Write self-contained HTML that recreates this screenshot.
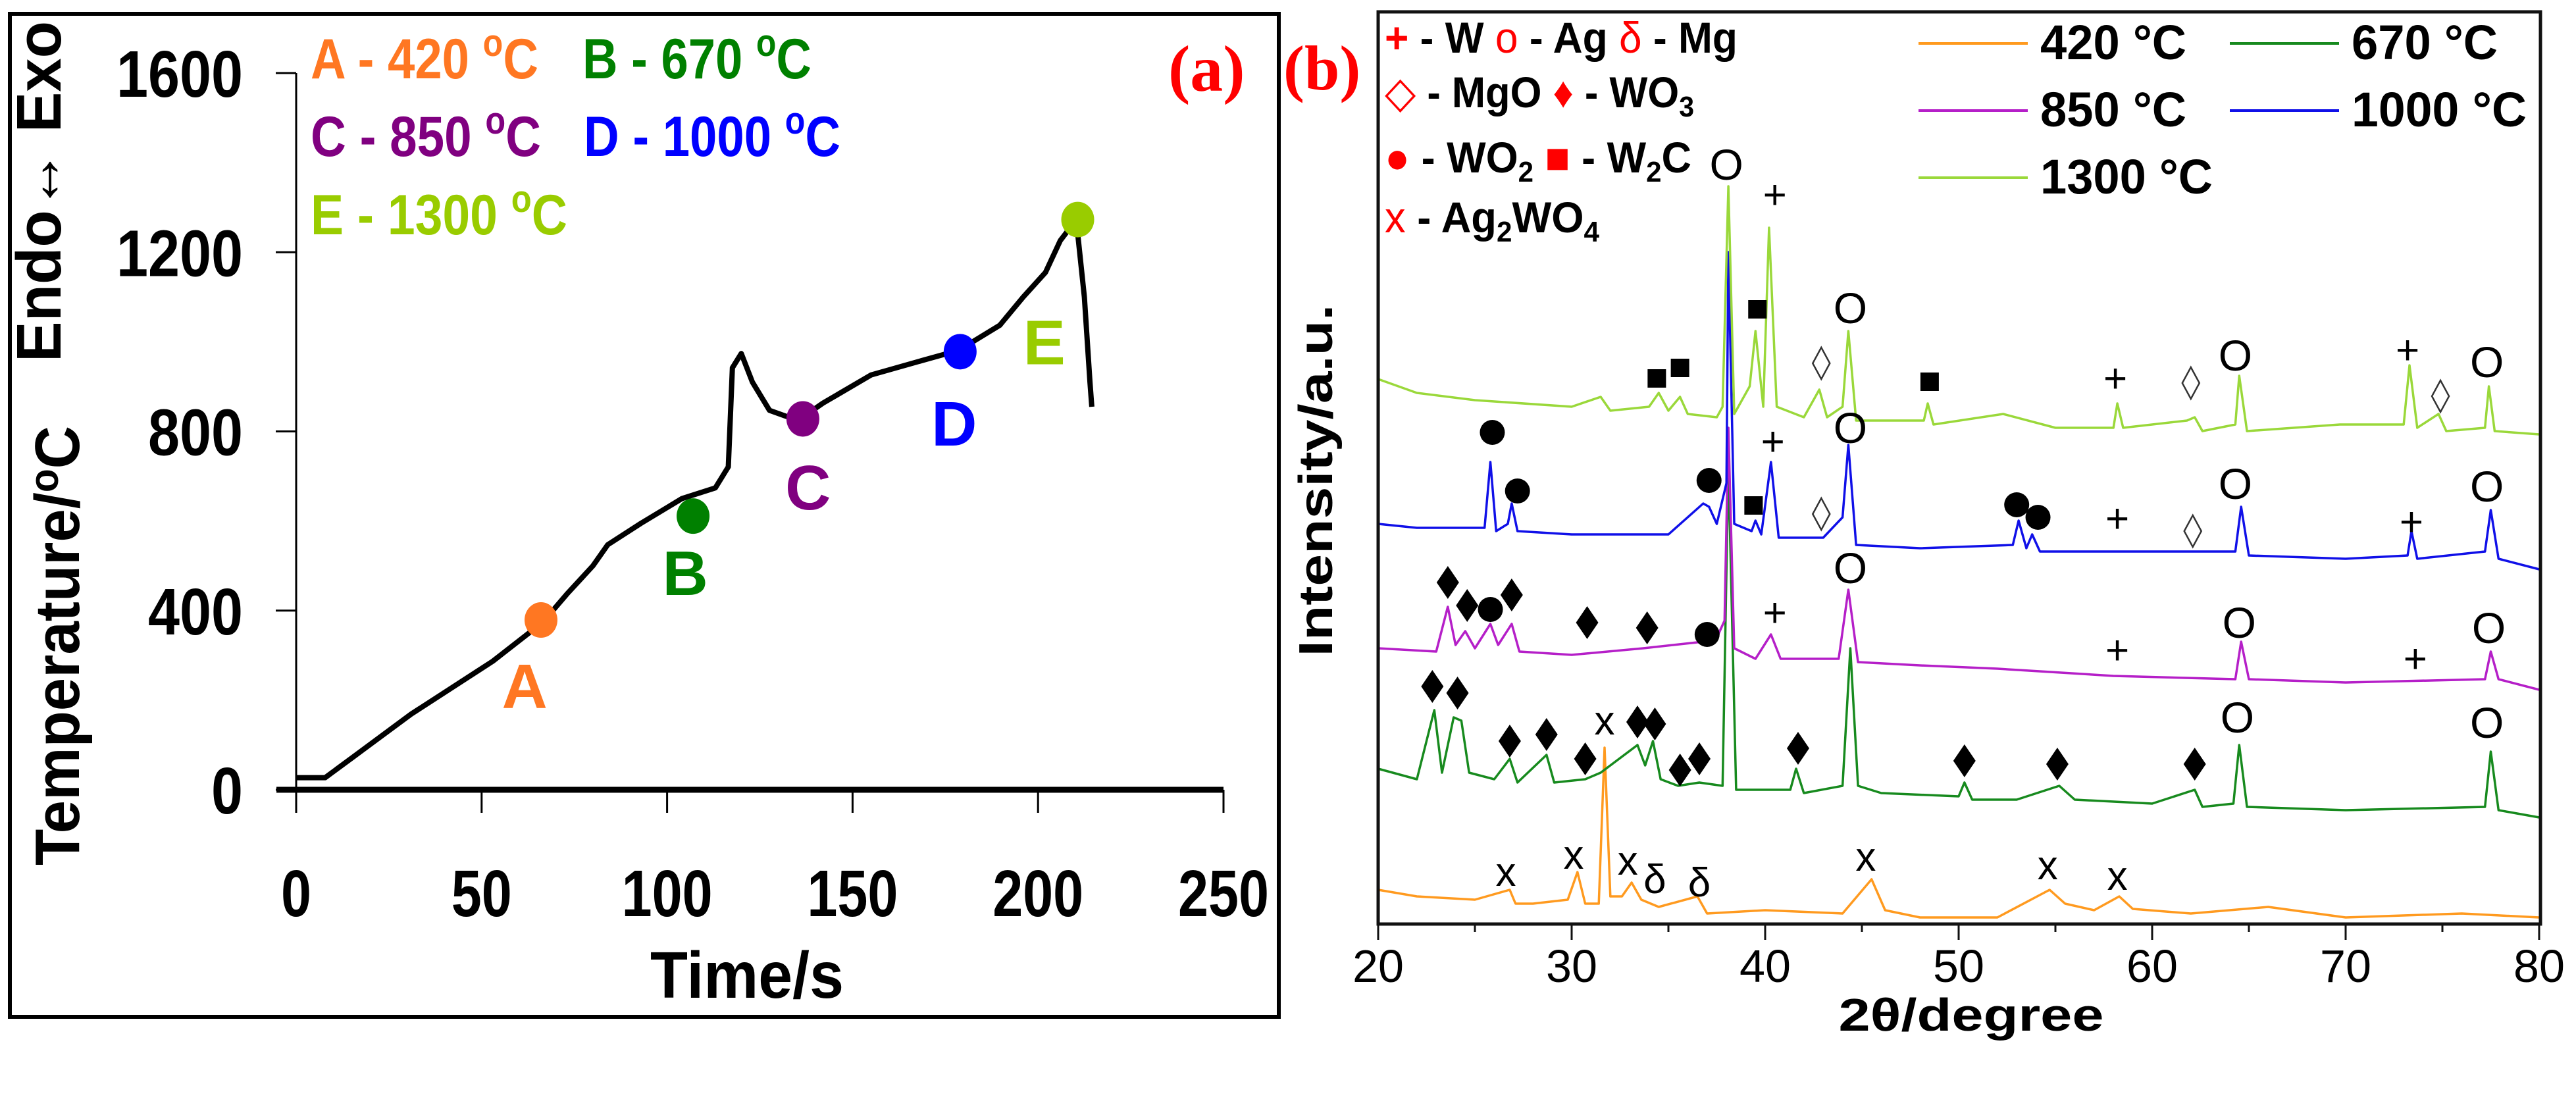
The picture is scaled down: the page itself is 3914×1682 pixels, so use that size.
<!DOCTYPE html>
<html><head><meta charset="utf-8">
<style>
html,body{margin:0;padding:0;background:#fff;}
svg{display:block;}
</style></head>
<body>
<svg id="fig" xmlns="http://www.w3.org/2000/svg" width="3914" height="1682" viewBox="0 0 3914 1682" font-family="'Liberation Sans', sans-serif">
<rect x="0" y="0" width="3914" height="1682" fill="#fff"/>
<!-- Panel (a) -->
<g id="panelA">
  <rect x="15" y="21" width="1928" height="1524" fill="none" stroke="#000" stroke-width="6"/>
  <g id="aAxes"></g>
  <g id="aCurve"></g>
  <g id="aMarkers"></g>
  <text transform="translate(120,981) rotate(-90)" text-anchor="middle" font-weight="bold" font-size="96" textLength="668" lengthAdjust="spacingAndGlyphs">Temperature/<tspan font-size="62" dy="-32">o</tspan><tspan dy="32">C</tspan></text>
  <text transform="translate(92,291) rotate(-90)" text-anchor="middle" font-weight="bold" font-size="96" textLength="518" lengthAdjust="spacingAndGlyphs">Endo↔ Exo</text>
  <text x="1135" y="1516" text-anchor="middle" font-weight="bold" font-size="100" textLength="294" lengthAdjust="spacingAndGlyphs">Time/s</text>
  <g font-weight="bold" font-size="86">
    <text x="472" y="119" fill="#ff7722" textLength="346" lengthAdjust="spacingAndGlyphs">A - 420 <tspan font-size="58" dy="-34">o</tspan><tspan dy="34">C</tspan></text>
    <text x="885" y="119" fill="#008000" textLength="348" lengthAdjust="spacingAndGlyphs">B - 670 <tspan font-size="58" dy="-34">o</tspan><tspan dy="34">C</tspan></text>
    <text x="472" y="237" fill="#800080" textLength="350" lengthAdjust="spacingAndGlyphs">C - 850 <tspan font-size="58" dy="-34">o</tspan><tspan dy="34">C</tspan></text>
    <text x="887" y="237" fill="#0000ff" textLength="390" lengthAdjust="spacingAndGlyphs">D - 1000 <tspan font-size="58" dy="-34">o</tspan><tspan dy="34">C</tspan></text>
    <text x="472" y="356" fill="#99cc00" textLength="390" lengthAdjust="spacingAndGlyphs">E - 1300 <tspan font-size="58" dy="-34">o</tspan><tspan dy="34">C</tspan></text>
  </g>
  <text x="1775" y="138" font-family="'Liberation Serif', serif" font-weight="bold" font-size="100" fill="#ff0000">(a)</text>
</g>

<!-- Panel (b) -->
<g id="panelB">
  <text x="1950" y="136" font-family="'Liberation Serif', serif" font-weight="bold" font-size="96" fill="#ff0000">(b)</text>
  <g id="bSeries"></g>
  <g id="bAnn"></g>
  <rect x="2094" y="18" width="1766" height="1386" fill="none" stroke="#111" stroke-width="5"/>
  <g id="bAxes"></g>
  <text transform="translate(2024,730) rotate(-90)" text-anchor="middle" font-weight="bold" font-size="72" textLength="535" lengthAdjust="spacingAndGlyphs">Intensity/a.u.</text>
  <text x="2995" y="1566" text-anchor="middle" font-weight="bold" font-size="70" textLength="403" lengthAdjust="spacingAndGlyphs">2θ/degree</text>
  <g font-weight="bold" font-size="66">
    <text x="2104" y="80" textLength="536" lengthAdjust="spacingAndGlyphs"><tspan fill="#f00">+</tspan> - W <tspan fill="#f00" font-weight="normal">o</tspan> - Ag <tspan fill="#f00" font-weight="normal">δ</tspan> - Mg</text>
    <text x="2104" y="163" textLength="470" lengthAdjust="spacingAndGlyphs"><tspan fill="#f00" font-weight="normal">◇</tspan> - MgO <tspan fill="#f00">♦</tspan> - WO<tspan font-size="44" dy="14">3</tspan></text>
    <text x="2104" y="262" textLength="466" lengthAdjust="spacingAndGlyphs"><tspan fill="#f00">●</tspan> - WO<tspan font-size="44" dy="14">2</tspan><tspan dy="-14"> </tspan><tspan fill="#f00">■</tspan> - W<tspan font-size="44" dy="14">2</tspan><tspan dy="-14">C</tspan></text>
    <text x="2104" y="353" textLength="326" lengthAdjust="spacingAndGlyphs"><tspan fill="#f00" font-weight="normal">x</tspan> - Ag<tspan font-size="44" dy="14">2</tspan><tspan dy="-14">WO</tspan><tspan font-size="44" dy="14">4</tspan></text>
  </g>
  <g id="bLegend"></g>
</g>

<script>
// ---------- Panel (a) data ----------
const aTimes = [0,7.8,15.5,31,53,66.5,73,80,84,93,104,113,116.5,117.6,120,123,127.6,133,136.4,142,155,168.6,178.6,189.7,196,202,206,209.6,210.7,212.5,214,214.5];
const aTemps = [27,27,74,169,287,374,437,500,547,595,650,674,721,942,974,910,847,831,831,863,926,958,981,1037,1100,1155,1226,1265,1241,1100,910,855];
const aXTicks = [0,50,100,150,200,250];
const aYTicks = [0,400,800,1200,1600];
const markerNames = ['A','B','C','D','E'];
const markerTimes = [66,107,136.6,179,210.7];
const markerTemps = [379,611,828,978,1273];
const markerColors = ['#ff7722','#008000','#800080','#0000ff','#99cc00'];
const labelTimes = [61.6,104.9,138,177.4,201.7];
const labelTemps = [235,488,679,821,1003];

const NS = 'http://www.w3.org/2000/svg';
function mk(tag, attrs, parent){ const e=document.createElementNS(NS,tag); for(const k in attrs) e.setAttribute(k,attrs[k]); parent.appendChild(e); return e; }
const ax = t => 450 + t/250*(1859-450);
const ay = v => 1200 - v/1600*(1200-111);

const aAxes = document.getElementById('aAxes');
let l = mk('line',{x1:420,y1:1200,x2:1859,y2:1200,stroke:'#000','stroke-width':9},aAxes);
 
l = mk('line',{x1:450,y1:111,x2:450,y2:1235,stroke:'#000','stroke-width':3},aAxes);
 
aXTicks.forEach(t=>{
  const tk = mk('line',{x1:ax(t),y1:1200,x2:ax(t),y2:1235,stroke:'#000','stroke-width':3},aAxes);
   
  const s=String(t);
  const tx = mk('text',{x:ax(t),y:1392,'text-anchor':'middle','font-weight':'bold','font-size':100,textLength:s.length*46,lengthAdjust:'spacingAndGlyphs'},aAxes);
  tx.textContent=s;
   
});
aYTicks.forEach(v=>{
  const tk = mk('line',{x1:419,y1:ay(v),x2:450,y2:ay(v),stroke:'#000','stroke-width':3},aAxes);
   
  const s=String(v);
  const tx = mk('text',{x:369,y:ay(v)+36,'text-anchor':'end','font-weight':'bold','font-size':100,textLength:s.length*48,lengthAdjust:'spacingAndGlyphs'},aAxes);
  tx.textContent=s;
   
});
const aCurve = document.getElementById('aCurve');
let d = aTimes.map((t,i)=>(i?'L':'M')+ax(t).toFixed(1)+','+ay(aTemps[i]).toFixed(1)).join(' ');
const cp = mk('path',{d:d,fill:'none',stroke:'#000','stroke-width':8,'stroke-linejoin':'round'},aCurve);
 
const aMarkers = document.getElementById('aMarkers');
markerNames.forEach((n,i)=>{
  const c = mk('ellipse',{cx:ax(markerTimes[i]),cy:ay(markerTemps[i]),rx:25,ry:27,fill:markerColors[i]},aMarkers);
   
  const t = mk('text',{x:ax(labelTimes[i]),y:ay(labelTemps[i])+36,'text-anchor':'middle','font-weight':'bold','font-size':96,fill:markerColors[i]},aMarkers);
  t.textContent=n;
   
});

// ---------- Panel (b) data ----------
const xrdSeriesNames = ['420 °C','670 °C','850 °C','1000 °C','1300 °C'];
const xrdColors = ['#ff9a1f','#178a1e','#b51fc8','#1010e8','#9ad83a'];
const x420 = [20,22,25,26.8,27.1,28,29.8,30.3,30.7,31.4,31.7,32.0,32.6,33.1,33.6,34.5,36.5,37,40,44,45.5,46.2,48,52,54.7,55.5,57,58.3,59,62,66,70,76,80];
const y420 = [52,42,37,52,31,31,37,79,31,31,268,42,42,63,37,26,42,16,21,16,68,21,10,10,52,31,21,42,23,16,26,10,16,10];
const x670 = [20,22,22.9,23.3,23.9,24.3,24.7,26,26.8,27.2,28.7,29.1,30.7,31.5,33.4,33.8,34.2,34.6,35.5,36.6,37.8,38.1,38.5,41.3,41.6,42,44,44.4,44.8,46,50,50.3,50.7,53,55.2,56,60,62.2,62.6,64.2,64.5,64.9,70,77.2,77.5,77.9,80];
const y670 = [236,220,325,230,314,309,230,220,251,215,257,215,220,230,272,241,278,220,210,215,210,700,204,204,236,199,210,419,210,199,194,215,189,189,210,189,183,204,178,183,272,178,173,178,262,173,162];
const x850 = [20,23,23.6,24.0,24.5,25,25.8,26.2,26.9,27.3,30,33.7,36.8,37.5,37.9,38.1,38.4,39.5,40.3,40.8,43.8,44.3,44.8,48,52,58,64.3,64.6,65,70,77.2,77.5,77.9,80];
const y850 = [419,414,482,424,445,419,456,424,456,414,409,419,429,435,461,754,419,403,440,403,403,508,398,393,388,377,372,429,372,367,372,414,372,356];
const x1000 = [20,22,25.5,25.8,26.1,26.7,26.9,27.2,30,35,36.8,37.1,37.5,38.0,38.1,38.4,39.3,39.5,39.8,40.3,40.7,43,44.0,44.3,44.7,48,52.8,53.1,53.5,53.8,54.2,58.2,60,64.3,64.6,65,70,73.2,73.4,73.7,77.2,77.5,77.9,80];
const y1000 = [608,602,602,702,597,608,639,597,592,592,639,634,608,670,1021,608,597,613,592,702,587,587,618,728,576,571,576,613,571,592,566,566,566,566,634,560,555,560,597,555,566,629,555,539];
const x1300 = [20,22,25,30,31.5,32,34,34.5,35,35.6,36,37.5,37.8,38.1,38.4,39.2,39.5,39.9,40.2,40.6,42,42.8,43.2,44.0,44.3,44.7,48.2,48.4,48.7,52.3,55,58,58.2,58.5,61.8,62.2,62.6,64.3,64.5,64.9,69.7,73,73.3,73.7,74.8,75.2,77.2,77.4,77.7,80];
const y1300 = [828,807,796,786,801,780,786,807,780,801,775,770,786,1121,775,817,901,786,1058,786,770,812,770,786,901,765,765,791,759,775,754,754,791,754,765,770,749,759,833,749,759,759,849,754,775,749,754,817,749,744];
const xrdX = [x420,x670,x850,x1000,x1300];
const xrdY = [y420,y670,y850,y1000,y1300];
const bXTicks = [20,30,40,50,60,70,80];
const annSymbols = ['■','■','O','+','■','◇','O','■','+','◇','O','+','◇','O',
 '●','●','●','■','+','O','●','●','+','◇','O','+','◇','O',
 '♦','♦','●','♦','♦','♦','●','+','O','+','O','+','O',
 '♦','♦','♦','♦','♦','x','♦','♦','♦','♦','♦','♦','♦','♦','O','O',
 'x','x','x','δ','δ','x','x','x'];
const annAngles = [34.4,35.6,38.0,40.5,39.6,42.9,44.4,48.5,58.1,62.0,64.3,73.2,74.9,77.3,
 25.9,27.2,37.1,39.4,40.4,44.4,53.0,54.1,58.2,62.1,64.3,73.4,42.9,77.3,
 23.6,24.6,25.8,26.9,30.8,33.9,37.0,40.5,44.4,58.2,64.5,73.6,77.4,
 22.8,24.1,26.8,28.7,30.7,31.7,33.4,34.3,35.6,36.6,41.7,50.3,55.1,62.2,64.4,77.3,
 26.6,30.1,32.9,34.3,36.6,45.2,54.6,58.2];
const annIntensity = [829,845,1152,1108,934,852,934,824,829,822,862,872,802,852,
 747,658,674,636,733,752,637,618,616,597,667,611,623,663,
 519,484,478,500,458,450,440,473,539,416,456,403,448,
 361,351,278,288,251,309,307,304,234,251,267,248,243,243,312,304,
 79,105,96,68,63,102,89,73];

const bx = t => 2094 + (t-20)/60*(3858-2094);
const by = v => 1404 - v;

const bAxes = document.getElementById('bAxes');
for(let t=20;t<=80;t+=5){
  const major = (t%10===0);
  const tk = mk('line',{x1:bx(t),y1:1404,x2:bx(t),y2:major?1428:1416,stroke:'#111','stroke-width':3},bAxes);
   
}
bXTicks.forEach(t=>{
  const tx = mk('text',{x:bx(t),y:1492,'text-anchor':'middle','font-size':70,textLength:78,lengthAdjust:'spacingAndGlyphs'},bAxes);
  tx.textContent=String(t);
   
});

const bSeries = document.getElementById('bSeries');
xrdX.forEach((xs,si)=>{
  const ys = xrdY[si];
  const dd = xs.map((t,i)=>(i?'L':'M')+bx(t).toFixed(1)+','+by(ys[i]).toFixed(1)).join(' ');
  const p = mk('path',{d:dd,fill:'none',stroke:xrdColors[si],'stroke-width':3.5,'stroke-linejoin':'round'},bSeries);
  
  
});

const bAnn = document.getElementById('bAnn');
annSymbols.forEach((s,i)=>{
  const x=bx(annAngles[i]), y=by(annIntensity[i]);
  let e;
  if(s==='●'){ e = mk('circle',{cx:x,cy:y,r:19,fill:'#000'},bAnn); }
  else if(s==='■'){ e = mk('rect',{x:x-14,y:y-14,width:28,height:28,fill:'#000'},bAnn); }
  else if(s==='♦'){ e = mk('path',{d:`M${x},${y-25} L${x+17},${y} L${x},${y+25} L${x-17},${y} Z`,fill:'#000'},bAnn); }
  else if(s==='◇'){ e = mk('path',{d:`M${x},${y-24} L${x+13},${y} L${x},${y+24} L${x-13},${y} Z`,fill:'none',stroke:'#333','stroke-width':2.5},bAnn); }
  else { e = mk('text',{x:x,y:y+21,'text-anchor':'middle','font-size':s==='O'?66:62},bAnn); e.textContent=s; }
  
  
});

const bLegend = document.getElementById('bLegend');
const legX = [2915,3388,2915,3388,2915];
const legY = [66,66,168,168,270];
const legLen = [222,222,222,266,262];
xrdSeriesNames.forEach((n,i)=>{
  const ln = mk('line',{x1:legX[i],y1:legY[i],x2:legX[i]+166,y2:legY[i],stroke:xrdColors[i],'stroke-width':4},bLegend);
   
  const t = mk('text',{x:legX[i]+185,y:legY[i]+24,'font-weight':'bold','font-size':74,textLength:legLen[i],lengthAdjust:'spacingAndGlyphs'},bLegend);
  const parts = n.split(' ');
  t.textContent = parts[0]+' °C';
   
});
</script>
</svg>
</body></html>
